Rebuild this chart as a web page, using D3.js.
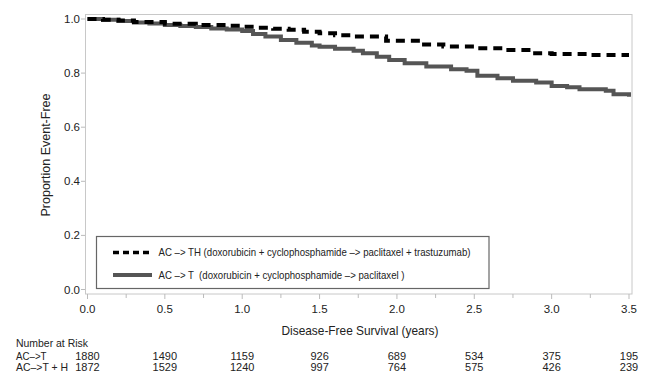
<!DOCTYPE html>
<html><head><meta charset="utf-8">
<script src="https://cdn.jsdelivr.net/npm/d3@7"></script>
<style>body{margin:0;background:#fff;} text{font-family:"Liberation Sans",Arial,Helvetica,sans-serif;fill:#222;}</style>
</head><body><svg id="c" width="651" height="385"></svg>
<script>
const xTicks = [0,0.5,1.0,1.5,2.0,2.5,3.0,3.5];
const yTicks = [0,0.2,0.4,0.6,0.8,1.0];
const seriesNames = ["AC –> TH (doxorubicin + cyclophosphamide –> paclitaxel + trastuzumab)",
                     "AC –> T  (doxorubicin + cyclophosphamide –> paclitaxel )"];
const thTimes = [0,0.1,0.2,0.3,0.5,0.7,0.9,1.0,1.1,1.2,1.3,1.4,1.5,1.6,1.72,1.93,2.15,2.3,2.5,2.7,2.85,3.0,3.25,3.5];
const thValues = [1.0,0.997,0.994,0.989,0.982,0.978,0.975,0.971,0.968,0.964,0.960,0.953,0.947,0.940,0.935,0.920,0.906,0.898,0.892,0.885,0.873,0.871,0.867,0.867];
const tTimes = [0,0.1,0.2,0.3,0.4,0.5,0.6,0.7,0.8,0.9,1.0,1.07,1.15,1.25,1.35,1.45,1.5,1.6,1.72,1.78,1.87,1.95,2.05,2.19,2.35,2.45,2.52,2.65,2.75,2.9,3.0,3.1,3.18,3.35,3.4,3.5];
const tValues = [1.0,0.997,0.993,0.987,0.983,0.978,0.974,0.970,0.965,0.961,0.956,0.945,0.935,0.922,0.912,0.902,0.897,0.890,0.883,0.873,0.860,0.848,0.836,0.824,0.814,0.809,0.790,0.781,0.772,0.765,0.752,0.748,0.740,0.735,0.722,0.713];
const riskRows = ["AC–>T","AC–>T + H"];
const riskT = [1880,1490,1159,926,689,534,375,195];
const riskTH = [1872,1529,1240,997,764,575,426,239];

const svg = d3.select("#c");
const x = d3.scaleLinear().domain([0,3.5]).range([87.5,629]);
const y = d3.scaleLinear().domain([0,1]).range([289.5,19]);

function fit(sel, w){ sel.attr("textLength",w).attr("lengthAdjust","spacingAndGlyphs"); return sel; }

// frame
svg.append("rect").attr("x",85.5).attr("y",14.5).attr("width",546.5).attr("height",279.5)
  .attr("fill","none").attr("stroke","#c8c8c8").attr("stroke-width",1);

// x axis ticks
const xa = svg.append("g").attr("transform","translate(0,294)");
const minor = d3.range(0,3.51,0.25);
xa.selectAll("line").data(minor).join("line")
  .attr("x1",d=>x(d)).attr("x2",d=>x(d)).attr("y1",0).attr("y2",d=>Math.abs(d*2-Math.round(d*2))<1e-6?5:4)
  .attr("stroke","#bbb");
xa.selectAll("text").data(xTicks).join("text")
  .attr("x",d=>x(d)).attr("y",19).attr("text-anchor","middle").attr("font-size",11.5)
  .text(d=>d.toFixed(1));
// y axis ticks
const ya = svg.append("g");
ya.selectAll("line").data(yTicks).join("line")
  .attr("x1",81).attr("x2",85).attr("y1",d=>y(d)).attr("y2",d=>y(d)).attr("stroke","#bbb");
ya.selectAll("text").data(yTicks).join("text")
  .attr("x",80).attr("y",d=>y(d)+4).attr("text-anchor","end").attr("font-size",11.5)
  .text(d=>d.toFixed(1));

// titles
fit(svg.append("text").attr("x",281.5).attr("y",335).attr("font-size",13)
  .text("Disease-Free Survival (years)"),157);
svg.append("text").attr("transform","translate(50,155) rotate(-90)").attr("text-anchor","middle").attr("font-size",12.5)
  .text("Proportion Event-Free");

// curves
const line = d3.line().x(d=>x(d[0])).y(d=>y(d[1])).curve(d3.curveStepAfter);
const tData = tTimes.map((t,i)=>[t,tValues[i]]);
const thData = thTimes.map((t,i)=>[t,thValues[i]]);
svg.append("path").attr("d",line(tData)).attr("fill","none").attr("stroke","#555").attr("stroke-width",4);
svg.append("path").attr("d",line(thData)).attr("fill","none").attr("stroke","#000").attr("stroke-width",4)
  .attr("stroke-dasharray","9,6");

// legend
svg.append("rect").attr("x",96.5).attr("y",236.5).attr("width",392.5).attr("height",52)
  .attr("fill","#fff").attr("stroke","#666").attr("stroke-width",1.2);
svg.append("line").attr("x1",113).attr("x2",152).attr("y1",252.5).attr("y2",252.5)
  .attr("stroke","#000").attr("stroke-width",3.5).attr("stroke-dasharray","6,4");
svg.append("line").attr("x1",113).attr("x2",152).attr("y1",275).attr("y2",275)
  .attr("stroke","#555").attr("stroke-width",4);
fit(svg.append("text").attr("x",158.5).attr("y",256).attr("font-size",11).style("white-space","pre").text(seriesNames[0]),312);
fit(svg.append("text").attr("x",158.5).attr("y",279).attr("font-size",11).style("white-space","pre").text(seriesNames[1]),246);

// number at risk
fit(svg.append("text").attr("x",16).attr("y",347).attr("font-size",11.5).text("Number at Risk"),72);
const rlW = [30.5,52];
svg.selectAll(".rl").data(riskRows).join("text").attr("class","rl")
  .attr("x",16).attr("y",(d,i)=>360+i*10.7).attr("font-size",11.5)
  .attr("textLength",(d,i)=>rlW[i]).attr("lengthAdjust","spacingAndGlyphs").text(d=>d);
[riskT,riskTH].forEach((row,r)=>{
  svg.selectAll(".rv"+r).data(row).join("text").attr("class","rv"+r)
    .attr("x",(d,i)=>x(xTicks[i])).attr("y",360+r*10.7)
    .attr("text-anchor","middle").attr("font-size",11).text(d=>d);
});
</script></body></html>
